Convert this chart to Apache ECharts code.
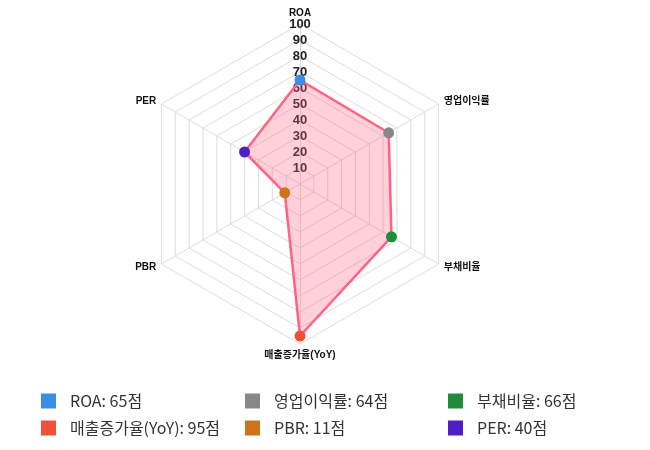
<!DOCTYPE html>
<html>
<head>
<meta charset="utf-8">
<script src="https://cdn.jsdelivr.net/npm/echarts@6/dist/echarts.min.js"></script>
<style>
  html, body { margin: 0; padding: 0; background: #fff; }
  #chart { width: 650px; height: 450px; }
</style>
</head>
<body>
<div id="chart"></div>
<script>
// Scores per metric, listed clockwise starting from the top axis
const indicators = ['ROA', '영업이익률', '부채비율', '매출증가율(YoY)', 'PBR', 'PER'];
const scores = [65, 64, 66, 95, 11, 40];
const pointColors = ['#3a8ee6', '#888888', '#1e8c3a', '#ee5138', '#cc7417', '#4d1fc4'];
const tickValues = [10, 20, 30, 40, 50, 60, 70, 80, 90, 100];
const scoreMax = 100;

const FONT = '"Liberation Sans", "Noto Sans CJK KR", sans-serif';
const LEGEND_FONT = '"Noto Sans CJK KR", "Noto Sans", sans-serif';
const CENTER = [300, 184];
const RADIUS = 160;

// ECharts radar runs counter-clockwise, so feed it the reversed tail
const order = [0].concat(indicators.slice(1).map((_, i) => indicators.length - 1 - i));
const radarIndicators = order.map(i => ({ name: indicators[i], max: scoreMax, min: 0 }));
const radarValues = order.map(i => scores[i]);

const legendLabel = i => `${indicators[i]}: ${scores[i]}점`;

// Points drawn per metric so each gets its own colour and legend entry
const pointSeries = indicators.map((name, i) => ({
  type: 'scatter',
  name: legendLabel(i),
  coordinateSystem: 'polar',
  symbol: 'circle',
  symbolSize: 11,
  z: 5,
  itemStyle: { color: pointColors[i], opacity: 1 },
  data: [[scores[i], name]]
}));

// Three legend columns of two rows each
const columns = [[0, 3], [1, 4], [2, 5]];
const columnLeft = [36, 240, 443];
const legends = columns.map((idx, c) => ({
  orient: 'vertical',
  left: columnLeft[c],
  top: 388,
  itemWidth: 15,
  itemHeight: 15,
  itemGap: 11,
  icon: 'rect',
  selectedMode: false,
  textStyle: { fontFamily: LEGEND_FONT, fontSize: 16, color: '#333', padding: [0, 0, 0, 9] },
  data: idx.map(i => ({ name: legendLabel(i), itemStyle: { color: pointColors[i], opacity: 1 } }))
}));

const option = {
  backgroundColor: '#ffffff',
  animation: false,
  legend: legends,
  radar: {
    center: CENTER,
    radius: RADIUS,
    startAngle: 90,
    splitNumber: 10,
    shape: 'polygon',
    indicator: radarIndicators,
    axisName: { color: '#111', fontFamily: FONT, fontSize: 10, fontWeight: 'bold' },
    nameGap: 6,
    splitLine: { lineStyle: { color: '#dddddd', width: 1 } },
    splitArea: { show: false },
    axisLine: { lineStyle: { color: '#dddddd', width: 1 } }
  },
  polar: { center: CENTER, radius: RADIUS },
  angleAxis: {
    type: 'category',
    data: indicators,
    startAngle: 90,
    clockwise: true,
    boundaryGap: false,
    axisLine: { show: false },
    axisTick: { show: false },
    axisLabel: { show: false },
    splitLine: { show: false }
  },
  radiusAxis: {
    type: 'value',
    min: 0,
    max: scoreMax,
    interval: tickValues[1] - tickValues[0],
    z: 0,
    axisLine: { show: false },
    axisTick: { show: false },
    splitLine: { show: false },
    axisLabel: {
      show: true,
      margin: 0,
      align: 'center',
      verticalAlign: 'middle',
      color: '#222',
      fontFamily: FONT,
      fontSize: 13,
      fontWeight: 'bold',
      formatter: v => (tickValues.indexOf(v) >= 0 ? String(v) : '')
    }
  },
  series: [
    {
      type: 'radar',
      z: 3,
      symbol: 'none',
      lineStyle: { color: '#ff6384', width: 2.5 },
      areaStyle: { color: 'rgba(255, 99, 132, 0.3)', opacity: 1 },
      data: [{ value: radarValues, name: '점수' }]
    }
  ].concat(pointSeries)
};

const chart = echarts.init(document.getElementById('chart'), null, { renderer: 'canvas' });
chart.setOption(option);
</script>
</body>
</html>
